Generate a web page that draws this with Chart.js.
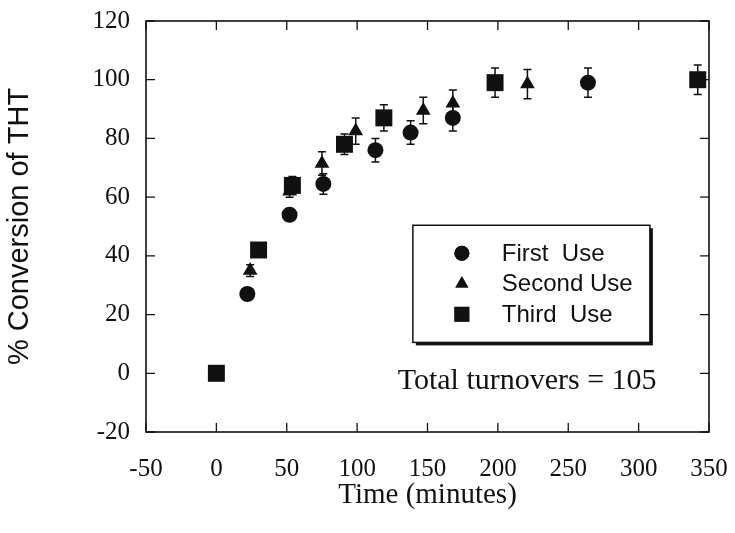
<!DOCTYPE html>
<html>
<head>
<meta charset="utf-8">
<title>% Conversion of THT vs Time</title>
<script src="https://cdn.jsdelivr.net/npm/chart.js@4/dist/chart.umd.min.js"></script>
<style>
  html, body { margin: 0; padding: 0; background: #fff; }
  #wrap { width: 735px; height: 533px; }
</style>
</head>
<body>
<div id="wrap"><canvas id="conversionChart"></canvas></div>
<script>
'use strict';

// values
const firstTime = [0, 22, 52, 76, 113, 138, 168, 264];
const firstConv = [0, 27, 54, 64.5, 76, 82, 87, 99];
const firstErr = [0, 1, 2, 3.5, 4, 4, 4.5, 5];

const secondTime = [0, 24, 52, 75, 99, 147, 168, 221];
const secondConv = [0, 35, 62, 71.5, 82.5, 89.5, 92, 98.5];
const secondErr = [0, 2, 2, 4, 4.5, 4.5, 4.5, 5];

const thirdTime = [0, 30, 54, 91, 119, 198, 342];
const thirdConv = [0, 42, 64, 78, 87, 99, 100];
const thirdErr = [0, 1, 3, 3.5, 4.5, 5, 5];

const seriesLabels = ['First  Use', 'Second Use', 'Third  Use'];
const xTicks = [-50, 0, 50, 100, 150, 200, 250, 300, 350];
const yTicks = [-20, 0, 20, 40, 60, 80, 100, 120];
const noteText = 'Total turnovers = 105';

const INK = '#111';
const SERIF = "'Liberation Serif', 'Times New Roman', serif";
const SANS = "'Liberation Sans', Arial, sans-serif";

const toPoints = (xs, ys, errs) => xs.map((x, i) => ({ x: x, y: ys[i], err: errs[i] }));

// frame with inward ticks on all four sides
const framePlugin = {
  id: 'frame',
  afterDraw(chart) {
    const { ctx, chartArea: a, scales } = chart;
    const len = 9;
    ctx.save();
    ctx.strokeStyle = INK;
    ctx.lineWidth = 1.6;
    ctx.strokeRect(a.left, a.top, a.right - a.left, a.bottom - a.top);
    ctx.lineWidth = 1.3;
    ctx.beginPath();
    xTicks.forEach(v => {
      const px = scales.x.getPixelForValue(v);
      ctx.moveTo(px, a.bottom); ctx.lineTo(px, a.bottom - len);
      ctx.moveTo(px, a.top); ctx.lineTo(px, a.top + len);
    });
    yTicks.forEach(v => {
      const py = scales.y.getPixelForValue(v);
      ctx.moveTo(a.left, py); ctx.lineTo(a.left + len, py);
      ctx.moveTo(a.right, py); ctx.lineTo(a.right - len, py);
    });
    ctx.stroke();
    ctx.restore();
  }
};

const errorBarPlugin = {
  id: 'errorBars',
  beforeDatasetsDraw(chart) {
    const { ctx, scales } = chart;
    const cap = 4;
    ctx.save();
    ctx.strokeStyle = INK;
    ctx.lineWidth = 1.5;
    chart.data.datasets.forEach(ds => {
      ds.data.forEach(p => {
        if (!p.err) return;
        const px = scales.x.getPixelForValue(p.x);
        const top = scales.y.getPixelForValue(p.y + p.err);
        const bot = scales.y.getPixelForValue(p.y - p.err);
        ctx.beginPath();
        ctx.moveTo(px, top); ctx.lineTo(px, bot);
        ctx.moveTo(px - cap, top); ctx.lineTo(px + cap, top);
        ctx.moveTo(px - cap, bot); ctx.lineTo(px + cap, bot);
        ctx.stroke();
      });
    });
    ctx.restore();
  }
};

// boxed legend with drop shadow, plus the turnover note
const legendBoxPlugin = {
  id: 'legendBox',
  afterDraw(chart) {
    const { ctx, chartArea: a } = chart;
    const w = a.right - a.left;
    const h = a.bottom - a.top;
    const bx = a.left + w * 0.474;
    const by = a.top + h * 0.497;
    const bw = w * 0.421;
    const bh = h * 0.285;
    ctx.save();
    ctx.fillStyle = INK;
    ctx.fillRect(bx + 3, by + 3, bw, bh);
    ctx.fillStyle = '#fff';
    ctx.fillRect(bx, by, bw, bh);
    ctx.strokeStyle = INK;
    ctx.lineWidth = 1.5;
    ctx.strokeRect(bx, by, bw, bh);

    ctx.font = '24px ' + SANS;
    ctx.textBaseline = 'middle';
    ctx.textAlign = 'left';
    const rowGap = 30.5;
    chart.data.datasets.forEach((ds, i) => {
      const cy = by + 28 + i * rowGap;
      ctx.fillStyle = INK;
      Chart.helpers.drawPoint(ctx, { pointStyle: ds.pointStyle, radius: ds.legendRadius, borderWidth: 0 }, bx + 49, cy);
      ctx.fill();
      ctx.fillText(ds.label, bx + 89, cy + 1);
    });

    ctx.font = '30px ' + SERIF;
    ctx.textBaseline = 'alphabetic';
    ctx.fillText(noteText, a.left + w * 0.447, a.top + h * 0.896);
    ctx.restore();
  }
};

const renderConversionChart = () => {
  const ctx = document.getElementById('conversionChart').getContext('2d');
  const baseSet = {
    backgroundColor: INK,
    borderColor: INK,
    borderWidth: 0,
    showLine: false
  };

  new Chart(ctx, {
    type: 'scatter',
    data: {
      datasets: [
        Object.assign({}, baseSet, {
          label: seriesLabels[0],
          data: toPoints(firstTime, firstConv, firstErr),
          pointStyle: 'circle', pointRadius: 8, legendRadius: 7.5, order: 2
        }),
        Object.assign({}, baseSet, {
          label: seriesLabels[1],
          data: toPoints(secondTime, secondConv, secondErr),
          pointStyle: 'triangle', pointRadius: 8.5, legendRadius: 7.5, order: 1
        }),
        Object.assign({}, baseSet, {
          label: seriesLabels[2],
          data: toPoints(thirdTime, thirdConv, thirdErr),
          pointStyle: 'rect', pointRadius: 12, legendRadius: 10.5, order: 0
        })
      ]
    },
    options: {
      responsive: true,
      maintainAspectRatio: false,
      animation: false,
      layout: { padding: { top: 21, right: 26, left: 0, bottom: 0 } },
      plugins: {
        legend: { display: false },
        tooltip: { enabled: false }
      },
      scales: {
        x: {
          type: 'linear',
          min: -50,
          max: 350,
          afterFit: scale => {
            scale.height = 101;
            scale.paddingLeft = 0;
            scale.paddingRight = 0;
          },
          afterBuildTicks: scale => { scale.ticks = xTicks.map(v => ({ value: v })); },
          grid: { display: false, drawTicks: false },
          border: { display: false },
          ticks: { color: INK, padding: 22, font: { family: SERIF, size: 25 } },
          title: {
            display: true,
            text: 'Time (minutes)',
            color: INK,
            font: { family: SERIF, size: 29 },
            padding: { top: 0, bottom: 20 }
          }
        },
        y: {
          type: 'linear',
          min: -20,
          max: 120,
          afterFit: scale => {
            scale.width = 146;
            scale.paddingTop = 0;
            scale.paddingBottom = 0;
          },
          afterBuildTicks: scale => { scale.ticks = yTicks.map(v => ({ value: v })); },
          grid: { display: false, drawTicks: false },
          border: { display: false },
          ticks: { color: INK, padding: 16, font: { family: SERIF, size: 25 } },
          title: {
            display: true,
            text: '% Conversion of THT',
            color: INK,
            font: { family: SANS, size: 29 },
            padding: { top: 3, bottom: 0 }
          }
        }
      }
    },
    plugins: [framePlugin, errorBarPlugin, legendBoxPlugin]
  });
};

document.addEventListener('DOMContentLoaded', renderConversionChart);
</script>
</body>
</html>
